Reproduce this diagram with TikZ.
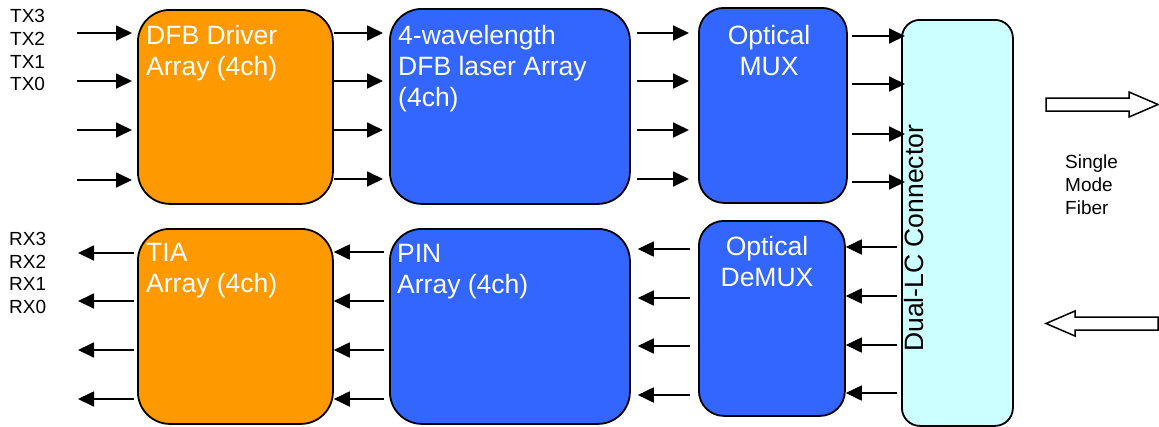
\documentclass[tikz,border=0pt]{standalone}
\usepackage{fontspec}
\setmainfont{Liberation Sans}
\usetikzlibrary{arrows.meta}
\definecolor{drvorange}{HTML}{FF9900}
\definecolor{optblue}{HTML}{3366FF}
\definecolor{lccyan}{HTML}{CCFFFF}

\begin{document}
\begin{tikzpicture}[x=1pt,y=-1pt]
  \tikzset{block/.style={draw=black, line width=1.8pt, anchor=north west, inner sep=0pt},
    orangeblock/.style={block, fill=drvorange, rounded corners=32pt},
    blueblock/.style={block, fill=optblue, rounded corners=#1},
    connblock/.style={block, fill=lccyan, rounded corners=18pt},
    blocktext/.style={text=white, inner sep=0pt, font=\fontsize{26.5}{31}\selectfont},
    smalltext/.style={anchor=north west, align=left, inner sep=0pt, font=\fontsize{19}{22.7}\selectfont},
    signal/.style={line width=1.8pt, -{Triangle[length=16pt,width=15pt]}},
    hollow/.style={draw=black, line width=1.5pt, fill=white}}
  \useasboundingbox (0,0) rectangle (1159,426);

  \node[orangeblock, minimum width=195pt, minimum height=194pt] (driver) at (137,9) {};
  \node[blueblock=32pt, minimum width=240pt, minimum height=195pt] (laser) at (389,8) {};
  \node[blueblock=25pt, minimum width=148pt, minimum height=195pt] (mux) at (698,7) {};
  \node[connblock, minimum width=111pt, minimum height=406pt] (conn) at (901,19) {};
  \node[orangeblock, minimum width=195pt, minimum height=195pt] (tia) at (137,228) {};
  \node[blueblock=32pt, minimum width=240pt, minimum height=195pt] (pin) at (389,228) {};
  \node[blueblock=25pt, minimum width=146pt, minimum height=195pt] (demux) at (698,220) {};

  \node[blocktext, anchor=north west, align=left] (drivertext) at (146,25) {DFB Driver\\Array (4ch)};
  \node[blocktext, anchor=north west, align=left] (lasertext) at (398,25.5) {4-wavelength\\DFB laser Array\\(4ch)};
  \node[blocktext, anchor=north, align=center] (muxtext) at (769,25) {Optical\\MUX};
  \node[blocktext, anchor=north west, align=left] (tiatext) at (146,243) {TIA\\Array (4ch)};
  \node[blocktext, anchor=north west, align=left] (pintext) at (397,244) {PIN\\Array (4ch)};
  \node[blocktext, anchor=north, align=center] (demuxtext) at (767,236) {Optical\\DeMUX};
  \node[blocktext, text=black, rotate=90, anchor=base west] (conntext) at (923,352) {Dual-LC Connector};

  \node[smalltext] (txnames) at (10,9.4) {TX3\\TX2\\TX1\\TX0};
  \node[smalltext] (rxnames) at (9,232) {RX3\\RX2\\RX1\\RX0};
  \node[smalltext] (fiber) at (1065,155) {Single\\Mode\\Fiber};

  \coordinate (txin) at (77,0);
  \coordinate (rxout) at (78,0);

  \foreach \y in {33,81,130,180}
    \draw[signal, shorten >=5pt] (txin |- 0,\y) -- (driver.west |- 0,\y);
  \foreach \y in {33,81,130,179}
    \draw[signal, shorten >=6pt] (driver.east |- 0,\y) -- (laser.west |- 0,\y);
  \foreach \y in {33,81,130,179}
    \draw[signal, shorten <=6pt, shorten >=9pt] (laser.east |- 0,\y) -- (mux.west |- 0,\y);
  \foreach \y in {36,84,134,182}
    \draw[signal, shorten <=4pt, shorten >=-4pt] (mux.east |- 0,\y) -- (conn.west |- 0,\y);
  \foreach \y in {247,296,345,393}
    \draw[signal, shorten <=4pt] (conn.west |- 0,\y) -- (demux.east |- 0,\y);
  \foreach \y in {249,298,346,395}
    \draw[signal, shorten <=8pt, shorten >=7pt] (demux.west |- 0,\y) -- (pin.east |- 0,\y);
  \foreach \y in {252,301,350,399}
    \draw[signal, shorten <=5pt] (pin.west |- 0,\y) -- (tia.east |- 0,\y);
  \foreach \y in {253,301,350,399}
    \draw[signal, shorten <=3pt] (tia.west |- 0,\y) -- (rxout |- 0,\y);

  \draw[hollow] (1046,98) -- (1129,98) -- (1129,92) -- (1158,104.5) -- (1129,117) -- (1129,111) -- (1046,111) -- cycle;
  \draw[hollow] (1158,317) -- (1075,317) -- (1075,311) -- (1046,323.5) -- (1075,336) -- (1075,330) -- (1158,330) -- cycle;
\end{tikzpicture}
\end{document}
